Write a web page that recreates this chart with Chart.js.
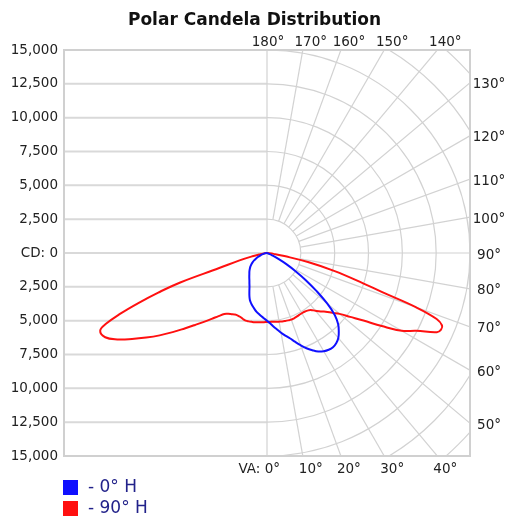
<!DOCTYPE html>
<html>
<head>
<meta charset="utf-8">
<title>Polar Candela Distribution</title>
<script src="https://cdn.jsdelivr.net/npm/chart.js@4.4.0/dist/chart.umd.min.js"></script>
<style>
  html, body { margin: 0; padding: 0; background: #fff; }
</style>
</head>
<body>
<canvas id="polarChart" width="509" height="518"></canvas>
<script>
// vertical angles (deg from nadir) and candela
var blueAngles = [0, 2.5, 5, 7.5, 10, 12.5, 15, 17.5, 20, 22.5, 25, 27.5, 30, 32.5, 35, 37.5, 40, 42.5, 45,
                  47.5, 50, 52.5, 55, 57.5, 60, 62.5, 65, 67.5, 70, 72.5, 75, 77.5, 80, 82.5, 85, 87.5, 90];
var cd0H   = [5000, 5200, 5450, 5700, 5980, 6250, 6520, 6870, 7250, 7620, 7930, 8210, 8380, 8480, 8500, 8400, 8200, 7850, 7430,
              6800, 5800, 4600, 3500, 2500, 1650, 950, 450, 150, 0, 0, 0, 0, 0, 0, 0, 0, 0];
var cd180H = [5000, 4850, 4700, 4550, 4420, 4250, 4080, 3900, 3700, 3400, 3080, 2800, 2600, 2420, 2280, 2150, 2030, 1930, 1830,
              1720, 1620, 1500, 1380, 1250, 1100, 950, 800, 650, 520, 420, 320, 220, 130, 60, 0, 0, 0];

var redAngles = [0, 2.5, 5, 7.5, 10, 12.5, 15, 17.5, 20, 22.5, 25, 27.5, 30, 32.5, 35, 37.5, 40, 42.5, 45, 47.5, 50,
                 52.5, 55, 57.5, 60, 62.5, 65, 66.25, 67.5, 68.75, 70, 71.25, 72.5, 75, 77.5, 80, 82.5, 85, 87.5, 90];
var cd90H  = [5100, 5100, 5100, 5120, 5150, 5180, 5200, 5220, 5240, 5220, 5190, 5160, 5140, 5150, 5200, 5300, 5580, 5870, 6130, 6550, 7000,
              7750, 8700, 10050, 11500, 12450, 13850, 14050, 14000, 13450, 11700, 8950, 7450, 5180, 3100, 1300, 500, 150, 0, 0];
var cd270H = [5100, 5120, 5140, 5160, 5190, 5210, 5230, 5240, 5190, 5120, 5100, 5130, 5220, 5330, 5500, 5880, 6350, 6900, 7520, 8250, 9100,
              10000, 10900, 11830, 12770, 13480, 13600, 13000, 11760, 10200, 8550, 6770, 3700, 2100, 1100, 500, 200, 50, 0, 0];

// angle labels round the box, and the rings of the polar grid
var topAngles = [180, 170, 160, 150, 140];
var sideAngles = [130, 120, 110, 100, 90, 80, 70, 60, 50];
var bottomAngles = [0, 10, 20, 30, 40];
var ringValues = [2500, 5000, 7500, 10000, 12500, 15000, 17500, 20000];

var FONT = '"DejaVu Sans", Verdana, sans-serif';

// left half goes from 90 down to 0, right half from 0 back up to 90
function toPoints(angles, rightCd, leftCd) {
    var pts = [];
    for (var i = angles.length - 1; i >= 0; i--) {
        var a = angles[i] * Math.PI / 180;
        pts.push({x: -leftCd[i] * Math.sin(a), y: -leftCd[i] * Math.cos(a)});
    }
    for (var j = 0; j < angles.length; j++) {
        var b = angles[j] * Math.PI / 180;
        pts.push({x: rightCd[j] * Math.sin(b), y: -rightCd[j] * Math.cos(b)});
    }
    return pts;
}

var polarGrid = {
    id: 'polarGrid',
    beforeDatasetsDraw: function(chart) {
        var ctx = chart.ctx, area = chart.chartArea;
        var xs = chart.scales.x, ys = chart.scales.y;
        var cx = xs.getPixelForValue(0), cy = ys.getPixelForValue(0);
        var unit = (xs.getPixelForValue(1000) - cx + cy - ys.getPixelForValue(1000)) / 2;

        ctx.save();
        ctx.beginPath();
        ctx.rect(area.left, area.top, area.right - area.left, area.bottom - area.top);
        ctx.clip();

        // candela lines on the left half
        ctx.strokeStyle = '#d9d9d9';
        ctx.lineWidth = 2;
        ys.ticks.forEach(function(t) {
            var y = ys.getPixelForValue(t.value);
            ctx.beginPath(); ctx.moveTo(area.left, y); ctx.lineTo(cx, y); ctx.stroke();
        });

        ctx.strokeStyle = '#d2d2d2';
        ctx.lineWidth = 1.2;
        ctx.beginPath(); ctx.moveTo(cx, area.top); ctx.lineTo(cx, area.bottom); ctx.stroke();

        ringValues.forEach(function(r) {
            ctx.beginPath();
            ctx.arc(cx, cy, r * unit / 1000, -Math.PI / 2, Math.PI / 2);
            ctx.stroke();
        });

        var spokes = bottomAngles.concat(sideAngles, topAngles).filter(function(a) { return a > 0 && a < 180; });
        var r0 = ringValues[0] * unit / 1000, r1 = 40000 * unit / 1000;
        spokes.forEach(function(va) {
            var a = va * Math.PI / 180, s = Math.sin(a), c = Math.cos(a);
            ctx.beginPath();
            ctx.moveTo(cx + r0 * s, cy + r0 * c);
            ctx.lineTo(cx + r1 * s, cy + r1 * c);
            ctx.stroke();
        });
        ctx.restore();

        ctx.save();
        ctx.strokeStyle = '#d0d0d0';
        ctx.lineWidth = 2;
        ctx.strokeRect(area.left, area.top, area.right - area.left, area.bottom - area.top);
        ctx.restore();
    },
    afterDraw: function(chart) {
        var ctx = chart.ctx, area = chart.chartArea;
        var cx = chart.scales.x.getPixelForValue(0), cy = chart.scales.y.getPixelForValue(0);
        ctx.save();
        ctx.font = '13.5px ' + FONT;
        ctx.fillStyle = '#222';
        ctx.textBaseline = 'middle';
        ctx.textAlign = 'center';

        topAngles.forEach(function(va) {
            var a = va * Math.PI / 180;
            var x = cx + (area.top - cy) / Math.cos(a) * Math.sin(a);
            ctx.fillText(va + '°', va === 180 ? cx + 1 : x + 8, area.top - 7.5);
        });
        sideAngles.forEach(function(va) {
            var a = va * Math.PI / 180;
            var y = cy + (area.right - cx) / Math.sin(a) * Math.cos(a);
            ctx.fillText(va + '°', area.right + 19, y + 2);
        });
        bottomAngles.forEach(function(va) {
            var a = va * Math.PI / 180;
            var x = cx + (area.bottom - cy) / Math.cos(a) * Math.sin(a);
            if (va === 0) {
                ctx.textAlign = 'right';
                ctx.fillText('VA: 0°', cx + 13, area.bottom + 13);
                ctx.textAlign = 'center';
            } else {
                ctx.fillText(va + '°', x + 8, area.bottom + 13);
            }
        });

        // legend, stacked under the box
        ctx.font = '17px ' + FONT;
        ctx.textAlign = 'left';
        chart.data.datasets.forEach(function(ds, i) {
            var y = 480 + i * 21;
            ctx.fillStyle = ds.borderColor;
            ctx.fillRect(area.left - 1, y, 15, 15);
            ctx.fillStyle = '#22228a';
            ctx.fillText(ds.label, area.left + 24, y + 8);
        });
        ctx.restore();
    }
};

var ctx = document.getElementById('polarChart');

var chart = new Chart(ctx, {
    type: 'scatter',
    data: {
        datasets: [
            {
                label: '- 0° H',
                data: toPoints(blueAngles, cd0H, cd180H),
                borderColor: '#1010ff',
                backgroundColor: '#1010ff',
                borderWidth: 2,
                showLine: true,
                pointRadius: 0,
                tension: 0.4
            },
            {
                label: '- 90° H',
                data: toPoints(redAngles, cd90H, cd270H),
                borderColor: '#ff1010',
                backgroundColor: '#ff1010',
                borderWidth: 2,
                showLine: true,
                pointRadius: 0,
                tension: 0.4
            }
        ]
    },
    options: {
        responsive: false,
        animation: false,
        layout: { padding: { left: 0, right: 0, top: 0, bottom: 62 } },
        plugins: {
            legend: { display: false },
            tooltip: { enabled: false },
            title: {
                display: true,
                text: 'Polar Candela Distribution',
                color: '#111',
                font: { family: FONT, size: 17, weight: 'bold' },
                padding: { top: 10, bottom: 19.6 }
            }
        },
        scales: {
            x: { type: 'linear', display: false, min: -15000, max: 15000 },
            y: {
                type: 'linear',
                min: -15000,
                max: 15000,
                grid: { display: false, drawTicks: false },
                border: { display: false },
                ticks: {
                    stepSize: 2500,
                    padding: 6,
                    color: '#222',
                    font: { family: FONT, size: 13.5 },
                    callback: function(v) {
                        return v === 0 ? 'CD: 0' : Math.abs(v).toLocaleString('en-US');
                    }
                },
                afterFit: function(scale) { scale.width = 64; }
            },
            // empty strip on the right that holds the angle labels
            yRight: {
                type: 'linear',
                position: 'right',
                min: -15000,
                max: 15000,
                grid: { display: false, drawTicks: false },
                border: { display: false },
                ticks: { display: false },
                afterFit: function(scale) { scale.width = 39; }
            }
        }
    },
    plugins: [polarGrid]
});
</script>
</body>
</html>
